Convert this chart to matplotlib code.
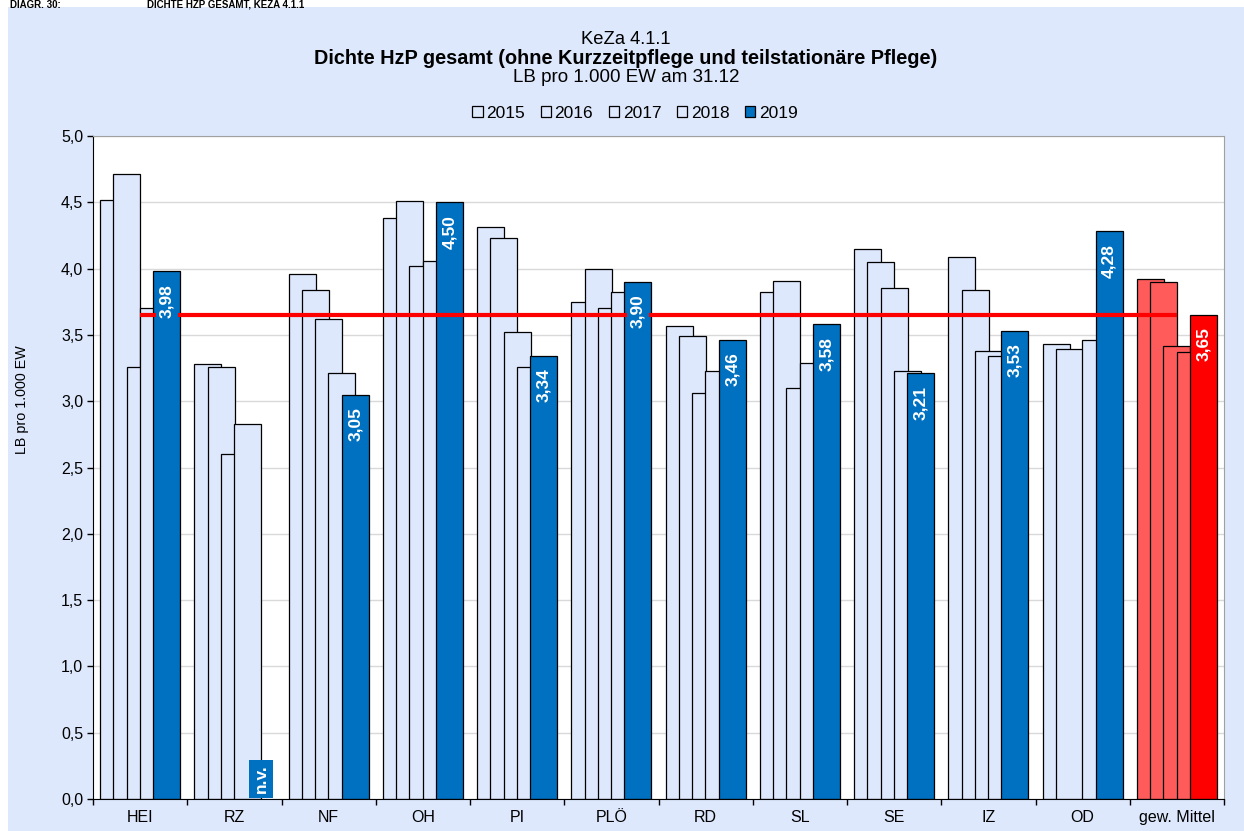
import numpy as np
import matplotlib
matplotlib.use("Agg")
import matplotlib.pyplot as plt
from matplotlib.patches import Patch, Rectangle

plt.rcParams['font.family'] = ['Liberation Sans', 'DejaVu Sans']

categories = ["HEI", "RZ", "NF", "OH", "PI", "PLÖ", "RD", "SL", "SE", "IZ", "OD", "gew. Mittel"]
years = ["2015", "2016", "2017", "2018", "2019"]
nan = np.nan
v2015 = [4.52, 3.28, 3.96, 4.38, 4.31, 3.75, 3.57, 3.82, 4.15, 4.09, 3.43, 3.92]
v2016 = [4.71, 3.26, 3.84, 4.51, 4.23, 4.00, 3.49, 3.91, 4.05, 3.84, 3.39, 3.90]
v2017 = [3.26, 2.60, 3.62, 4.02, 3.52, 3.70, 3.06, 3.10, 3.85, 3.38, nan, 3.42]
v2018 = [3.70, 2.83, 3.21, 4.06, 3.26, 3.82, 3.23, 3.29, 3.23, 3.34, 3.46, 3.37]
v2019 = [3.98, nan, 3.05, 4.50, 3.34, 3.90, 3.46, 3.58, 3.21, 3.53, 4.28, 3.65]
mean_line = 3.65
series = [v2015, v2016, v2017, v2018, v2019]

light = "#DDE8FC"
blue = "#0070C0"
lred = "#FF5B5B"
red = "#FF0000"

fig = plt.figure(figsize=(12.44, 8.31), dpi=100)
fig.patch.set_facecolor("white")
fig.patches.append(Rectangle((8/1244, 0), 1 - 8/1244, 1 - 7/831, transform=fig.transFigure,
                             facecolor=light, edgecolor="none", zorder=-10))
fig.text(10/1244, 1 - 7.5/831, "DIAGR. 30:", fontsize=7, fontweight="bold", va="baseline")
fig.text(147/1244, 1 - 7.5/831, "DICHTE HZP GESAMT, KEZA 4.1.1", fontsize=7, fontweight="bold", va="baseline")

ax = fig.add_axes([93/1244, 1 - 799/831, (1224 - 93)/1244, (799 - 136)/831])
ax.set_facecolor("white")

n = len(categories)
x = np.arange(n)
step = 0.141
width = 0.287

for j, vals in enumerate(series):
    vals = np.array(vals, dtype=float)
    pos = x + (j - 2) * step
    colors = []
    for i in range(n):
        if categories[i] == "gew. Mittel":
            colors.append(red if j == 4 else lred)
        else:
            colors.append(blue if j == 4 else light)
    h = np.nan_to_num(vals, nan=0.0)
    mask = ~np.isnan(vals)
    ax.bar(pos[mask], h[mask], width=width, color=np.array(colors)[mask],
           edgecolor="black", linewidth=0.9, zorder=2 + j * 0.01)

# mean line
ax.plot([x[0], x[-1]], [mean_line, mean_line], color=red, lw=3, zorder=3, solid_capstyle="butt")

# labels for 2019
pos19 = x + 2 * step
for i in range(n):
    val = v2019[i]
    col = red if categories[i] == "gew. Mittel" else blue
    if np.isnan(val):
        ax.annotate("n.v.", xy=(pos19[i], 0), xytext=(0, 4), textcoords="offset points",
                    rotation=90, ha="center", va="bottom", color="white", fontsize=12.5,
                    fontweight="bold", zorder=5,
                    bbox=dict(boxstyle="square,pad=0.25", fc=col, ec="none"))
    else:
        ax.annotate(f"{val:.2f}".replace(".", ","), xy=(pos19[i], val), xytext=(0, -9),
                    textcoords="offset points", rotation=90, ha="center", va="top",
                    color="white", fontsize=12.5, fontweight="bold", zorder=5,
                    bbox=dict(boxstyle="square,pad=0.2", fc=col, ec="none"))

ax.set_xlim(-0.5, n - 0.5)
ax.set_ylim(0, 5)
yt = np.arange(0, 5.01, 0.5)
ax.set_yticks(yt)
ax.set_yticklabels([f"{t:.1f}".replace(".", ",") for t in yt], fontsize=11.5)
ax.set_xticks(x)
ax.set_xticklabels(categories, fontsize=11.5)
ax.set_xticks(np.arange(-0.5, n, 1.0), minor=True)
ax.tick_params(axis="x", which="major", length=0, pad=8)
ax.tick_params(axis="x", which="minor", length=4, direction="out", width=1)
ax.tick_params(axis="y", length=4, direction="out", width=1, pad=3)
ax.grid(axis="y", color="#D9D9D9", lw=1, zorder=0)
ax.set_axisbelow(True)
for s in ["top", "right"]:
    ax.spines[s].set_color("#A0A0A0")
for s in ["left", "bottom"]:
    ax.spines[s].set_color("black")
fig.text(22/1244, 1 - 400/831, "LB pro 1.000 EW", rotation=90, ha="center", va="center", fontsize=10.3)

# titles
cx = 626 / 1244
fig.text(cx, 1 - 40/831, "KeZa 4.1.1", ha="center", va="center", fontsize=13.2)
fig.text(cx, 1 - 58/831, "Dichte HzP gesamt (ohne Kurzzeitpflege und teilstationäre Pflege)",
         ha="center", va="center", fontsize=14.3, fontweight="bold")
fig.text(cx, 1 - 77/831, "LB pro 1.000 EW am 31.12", ha="center", va="center", fontsize=13.5)

handles = [Patch(facecolor=(blue if y == "2019" else light), edgecolor="black", linewidth=0.9) for y in years]
fig.legend(handles, years, loc="center", bbox_to_anchor=(635/1244, 1 - 113/831), ncol=5,
           frameon=False, fontsize=12.5, handlelength=0.6, handleheight=0.6,
           handletextpad=0.2, columnspacing=0.9)

fig.savefig("out.png", dpi=100)
